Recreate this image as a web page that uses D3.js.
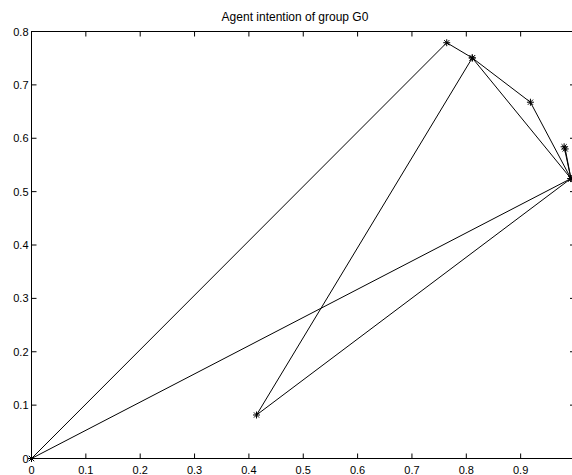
<!DOCTYPE html>
<html>
<head>
<meta charset="utf-8">
<script src="https://cdn.jsdelivr.net/npm/d3@7"></script>
<style>
  html, body { margin: 0; padding: 0; background: #fff; }
  svg { display: block; }
  text { font-family: "Liberation Sans", Arial, Helvetica, sans-serif; fill: #000; }
</style>
</head>
<body>
<script>
// Trajectory of the group's intention point (visited in order)
const xValues = [0, 0.764, 0.811, 0.918, 0.9925, 0.980, 0.982, 0.9925, 0.811, 0.414, 0.9925, 0];
const yValues = [0, 0.779, 0.7505, 0.6675, 0.5245, 0.584, 0.580, 0.5245, 0.7505, 0.0815, 0.5245, 0];

// Tick positions; the x = 1 tick sits on the right edge of the figure and has no label
const xTicks = [0, 0.1, 0.2, 0.3, 0.4, 0.5, 0.6, 0.7, 0.8, 0.9];
const yTicks = [0, 0.1, 0.2, 0.3, 0.4, 0.5, 0.6, 0.7, 0.8];
const xTickLabels = ["0", "0.1", "0.2", "0.3", "0.4", "0.5", "0.6", "0.7", "0.8", "0.9"];
const yTickLabels = ["0", "0.1", "0.2", "0.3", "0.4", "0.5", "0.6", "0.7", "0.8"];
const titleText = "Agent intention of group G0";

const W = 572, H = 475;
const svg = d3.select("body").append("svg").attr("width", W).attr("height", H);
svg.append("rect").attr("width", W).attr("height", H).attr("fill", "#fff");

const x = d3.scaleLinear().domain([0, 1]).range([31.5, 575]);
const y = d3.scaleLinear().domain([0, 0.8]).range([458.5, 31.5]);

const plot = svg.append("g");

// Axes box
plot.append("rect")
  .attr("x", x(0)).attr("y", y(0.8))
  .attr("width", x(1) - x(0)).attr("height", y(0) - y(0.8))
  .attr("fill", "none").attr("stroke", "#000").attr("stroke-width", 1);

const tickLen = 5;
// Bottom and top ticks (inward)
plot.append("g").selectAll("line").data(xTicks).join("line")
  .attr("x1", d => x(d)).attr("x2", d => x(d))
  .attr("y1", y(0)).attr("y2", y(0) - tickLen)
  .attr("stroke", "#000");
plot.append("g").selectAll("line").data(xTicks).join("line")
  .attr("x1", d => x(d)).attr("x2", d => x(d))
  .attr("y1", y(0.8)).attr("y2", y(0.8) + tickLen)
  .attr("stroke", "#000");
// Left and right ticks (inward)
plot.append("g").selectAll("line").data(yTicks).join("line")
  .attr("x1", x(0)).attr("x2", x(0) + tickLen)
  .attr("y1", d => y(d)).attr("y2", d => y(d))
  .attr("stroke", "#000");
plot.append("g").selectAll("line").data(yTicks).join("line")
  .attr("x1", x(1)).attr("x2", x(1) - tickLen)
  .attr("y1", d => y(d)).attr("y2", d => y(d))
  .attr("stroke", "#000");

// Tick labels
svg.append("g").selectAll("text").data(xTicks).join("text")
  .attr("x", d => x(d)).attr("y", 474)
  .attr("text-anchor", "middle").attr("font-size", 11)
  .text((d, i) => xTickLabels[i]);
svg.append("g").selectAll("text").data(yTicks).join("text")
  .attr("x", 28.5).attr("y", d => y(d) + 4)
  .attr("text-anchor", "end").attr("font-size", 11)
  .text((d, i) => yTickLabels[i]);

// Title
svg.append("text").attr("x", 295).attr("y", 21)
  .attr("text-anchor", "middle").attr("font-size", 12)
  .text(titleText);

// Trajectory line
const pts = xValues.map((v, i) => [v, yValues[i]]);
plot.append("path")
  .datum(pts)
  .attr("d", d3.line().x(d => x(d[0])).y(d => y(d[1])))
  .attr("fill", "none").attr("stroke", "#000").attr("stroke-width", 1)
  .attr("stroke-linejoin", "round");

// Asterisk markers
const m = 3.5, md = 2.6;
const star = plot.append("g").selectAll("g").data(pts).join("g")
  .attr("transform", d => `translate(${x(d[0])},${y(d[1])})`)
  .attr("stroke", "#000").attr("stroke-width", 1);
star.append("line").attr("x1", -m).attr("x2", m).attr("y1", 0).attr("y2", 0);
star.append("line").attr("x1", 0).attr("x2", 0).attr("y1", -m).attr("y2", m);
star.append("line").attr("x1", -md).attr("x2", md).attr("y1", -md).attr("y2", md);
star.append("line").attr("x1", -md).attr("x2", md).attr("y1", md).attr("y2", -md);
</script>
</body>
</html>
